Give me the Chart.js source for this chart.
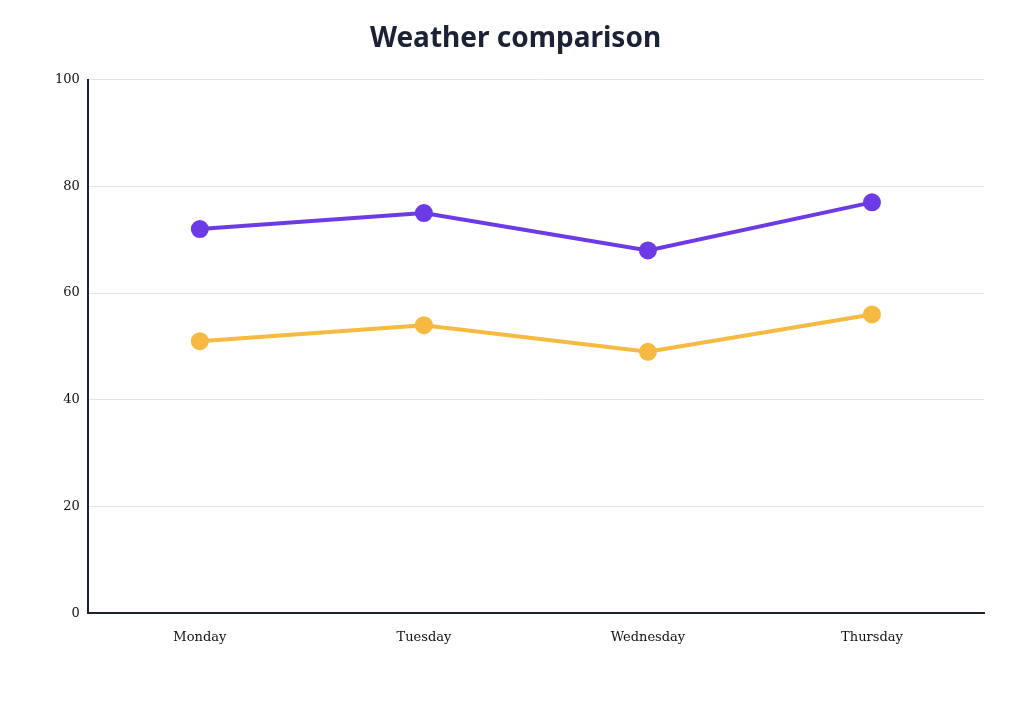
<!DOCTYPE html>
<html>
<head>
<meta charset="utf-8">
<script src="https://cdn.jsdelivr.net/npm/chart.js@4"></script>
<style>
  html, body { margin: 0; padding: 0; background: #fff; }
  #wrap { width: 1024px; height: 705px; }
</style>
</head>
<body>
<div id="wrap"><canvas id="chart"></canvas></div>
<script>
// data
var days = ["Monday", "Tuesday", "Wednesday", "Thursday"];
var purpleVals = [72, 75, 68, 77];
var yellowVals = [51, 54, 49, 56];

new Chart(document.getElementById("chart"), {
  type: "line",
  data: {
    labels: days,
    datasets: [
      {
        label: "Series A",
        data: purpleVals,
        borderColor: "#6c3be6",
        backgroundColor: "#6c3be6",
        borderWidth: 4,
        pointRadius: 7,
        pointHoverRadius: 7
      },
      {
        label: "Series B",
        data: yellowVals,
        borderColor: "#f6b941",
        backgroundColor: "#f6b941",
        borderWidth: 4,
        pointRadius: 7,
        pointHoverRadius: 7
      }
    ]
  },
  options: {
    responsive: true,
    maintainAspectRatio: false,
    animation: false,
    layout: { padding: { left: 47, right: 40, top: 10, bottom: 52 } },
    plugins: {
      legend: { display: false },
      title: {
        display: true,
        text: "Weather comparison",
        color: "#1c2236",
        font: { family: "'Noto Sans'", size: 28, weight: "bold" },
        padding: { top: 12, bottom: 24 }
      }
    },
    scales: {
      x: {
        offset: true,
        grid: { display: false },
        border: { color: "#1c2236", width: 2 },
        ticks: { color: "#111", font: { family: "'DejaVu Serif'", size: 13 }, padding: 8 }
      },
      y: {
        min: 0,
        max: 100,
        ticks: { stepSize: 20, color: "#111", font: { family: "'DejaVu Serif'", size: 13 }, padding: 8 },
        grid: { color: "#e4e4e4", drawTicks: false },
        border: { color: "#1c2236", width: 2 }
      }
    }
  }
});
</script>
</body>
</html>
